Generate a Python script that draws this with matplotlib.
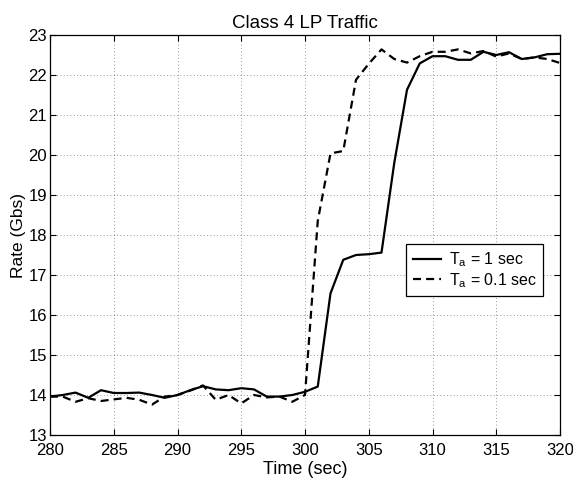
import numpy as np
import matplotlib
matplotlib.use('Agg')
import matplotlib.pyplot as plt

plt.rc('font', family='Liberation Sans')
plt.rc('mathtext', fontset='custom', rm='Liberation Sans')

#%% data
time = list(range(280, 321))

rate_1s = [13.96, 14.00, 14.06, 13.93, 14.12, 14.05, 14.05, 14.06, 14.00, 13.93,
           14.00, 14.12, 14.22, 14.14, 14.12, 14.17, 14.14, 13.96, 13.96, 14.00,
           14.08, 14.21, 16.54, 17.38, 17.50, 17.52, 17.56, 19.80, 21.63, 22.29,
           22.47, 22.47, 22.38, 22.38, 22.58, 22.50, 22.57, 22.40, 22.44, 22.52,
           22.53]

rate_01s = [13.96, 13.96, 13.83, 13.92, 13.85, 13.89, 13.93, 13.88, 13.76, 13.96,
            14.00, 14.11, 14.24, 13.88, 14.00, 13.79, 14.00, 13.94, 13.96, 13.83,
            14.00, 18.35, 20.04, 20.10, 21.88, 22.28, 22.64, 22.40, 22.31, 22.47,
            22.58, 22.58, 22.64, 22.54, 22.60, 22.46, 22.54, 22.40, 22.44, 22.40,
            22.30]

labels = [r'T$_\mathregular{a}$ = 1 sec', r'T$_\mathregular{a}$ = 0.1 sec']

#%% figure
dpi = 100
fig = plt.figure(figsize=(573/dpi, 486/dpi), dpi=dpi)
ax = fig.add_axes([50/573, 1-435/486, 510/573, 400/486])

ax.plot(time, rate_1s, 'k-', lw=1.6, label=labels[0])
ax.plot(time, rate_01s, color='k', lw=1.6, linestyle=(0, (3.6, 2.3)), label=labels[1])

ax.set_xlim(280, 320)
ax.set_ylim(13, 23)
ax.set_xticks(np.arange(280, 321, 5))
ax.set_yticks(np.arange(13, 24, 1))
ax.grid(True, linestyle=(0, (1, 3)), color='k', lw=0.6, alpha=0.55)
ax.tick_params(direction='in', top=True, right=True, length=4, width=0.8,
               labelsize=12)
ax.tick_params(axis='x', pad=6)
ax.tick_params(axis='y', pad=2)
for s in ax.spines.values():
    s.set_linewidth(0.9)

ax.set_title('Class 4 LP Traffic', fontsize=13.5, pad=5)
ax.set_xlabel('Time (sec)', fontsize=13, labelpad=2)
ax.set_ylabel('Rate (Gbs)', fontsize=12.5, labelpad=2)

leg = ax.legend(loc='upper right', bbox_to_anchor=(0.967, 0.4775), fontsize=11.5,
                fancybox=False, edgecolor='k', framealpha=1, handlelength=1.75,
                borderpad=0.4, labelspacing=0.12, handletextpad=0.5,
                borderaxespad=0)
leg.get_frame().set_linewidth(0.9)

plt.savefig('out.png', dpi=dpi)
